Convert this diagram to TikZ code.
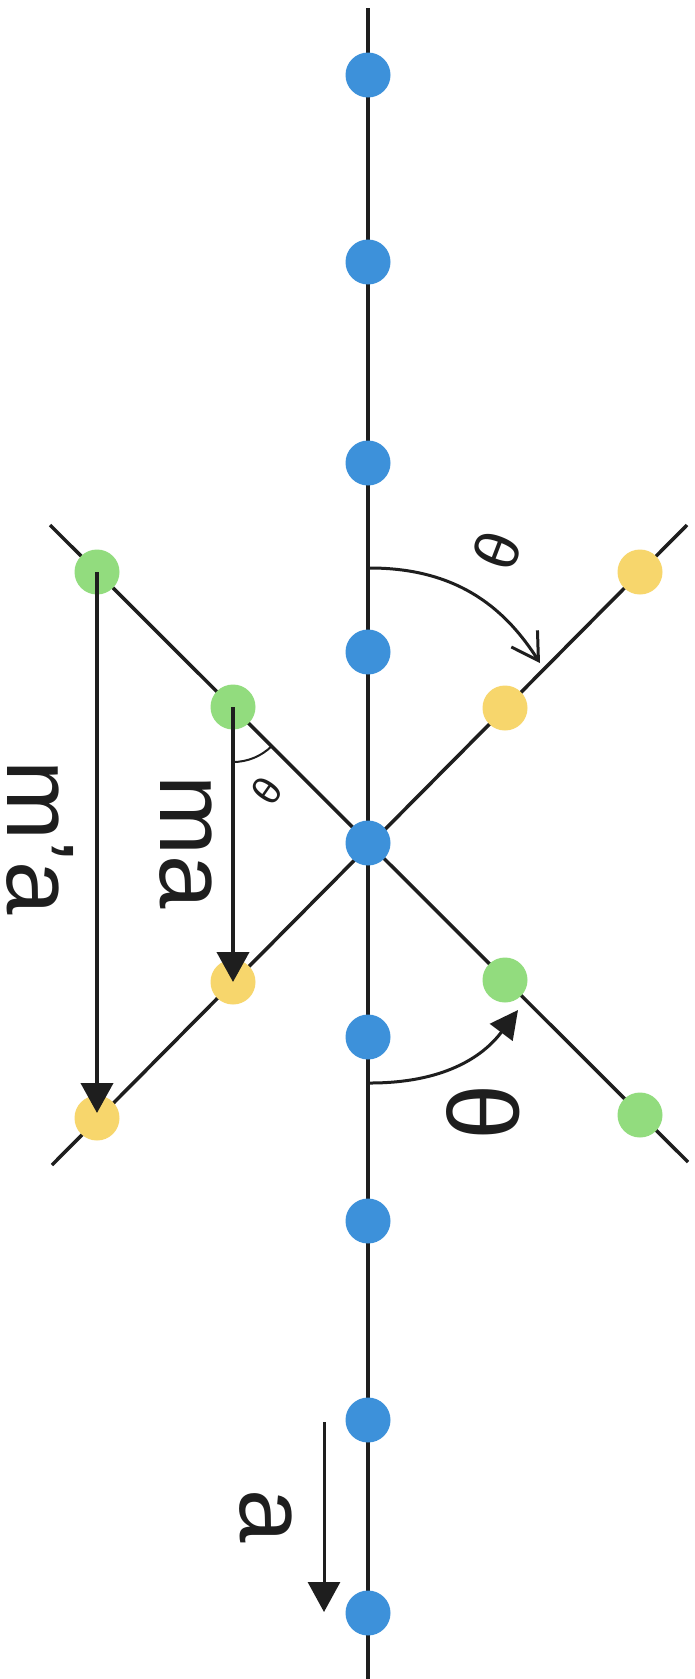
\documentclass[tikz,border=0pt]{standalone}
\usepackage{fontspec}
\setmainfont{Liberation Sans}
\usetikzlibrary{arrows.meta}
\definecolor{dotblue}{RGB}{61,145,218}
\definecolor{dotgreen}{RGB}{146,220,126}
\definecolor{dotyellow}{RGB}{247,214,108}
\definecolor{ink}{RGB}{30,30,30}
\begin{document}
\begin{tikzpicture}[x=1pt,y=-1pt,
  dotbase/.style={circle,inner sep=0pt,minimum size=45pt},
  bdot/.style={dotbase,fill=dotblue},
  gdot/.style={dotbase,fill=dotgreen},
  ydot/.style={dotbase,fill=dotyellow},
  axisline/.style={draw=ink,line width=4pt},
  diagline/.style={draw=ink,line width=3.5pt},
  vec/.style={draw=ink,line width=4pt,-{Triangle[length=30pt,width=32pt]}},
  thinarc/.style={draw=ink,line width=3pt},
  label/.style={inner sep=0pt,rotate=-90,anchor=base west,text=ink},
  thetalbl/.style={inner sep=0pt,text=ink}
]
\useasboundingbox (0,0) rectangle (695,1679);
\fill[white] (0,0) rectangle (695,1679);

% axis and diagonals
\coordinate (axtop) at (368,8);
\coordinate (axbot) at (368,1679);
\coordinate (d1s) at (50,525);
\coordinate (d1e) at (688,1162);
\coordinate (d2s) at (687,525);
\coordinate (d2e) at (52,1165);
\draw[axisline] (axtop) -- (axbot);
\draw[diagline] (d1s) -- (d1e);
\draw[diagline] (d2s) -- (d2e);

% blue dots
\node[bdot] (b1) at (368,75) {};
\node[bdot] (b2) at (368,262) {};
\node[bdot] (b3) at (368,463) {};
\node[bdot] (b4) at (368,652) {};
\node[bdot] (b5) at (368,843) {};
\node[bdot] (b6) at (368,1037) {};
\node[bdot] (b7) at (368,1221) {};
\node[bdot] (b8) at (368,1420) {};
\node[bdot] (b9) at (368,1613) {};

% green dots
\node[gdot] (g1) at (97,572) {};
\node[gdot] (g2) at (233,707) {};
\node[gdot] (g3) at (505,980) {};
\node[gdot] (g4) at (640,1115) {};

% yellow dots
\node[ydot] (y1) at (640,572) {};
\node[ydot] (y2) at (505,708) {};
\node[ydot] (y3) at (233,982) {};
\node[ydot] (y4) at (97,1118) {};

% projection arrows
\draw[vec,shorten >=5pt] (g1.center) -- (y4.center);
\draw[vec] (g2.center) -- (y3.center);

% small angle arc at g2
\draw[draw=ink,line width=2pt] (g2.center) ++(0,55) arc[start angle=90,end angle=45,radius=55];

% rotation arcs
\coordinate (ua1) at (370,568);
\coordinate (ua2) at (540,663);
\draw[thinarc,-{Straight Barb[length=26pt,width=31pt]}] (ua1) .. controls (462,568) and (508,613) .. (ua2);
\coordinate (la1) at (370,1083);
\coordinate (la2) at (518,1010);
\draw[thinarc,-{Triangle[length=28pt,width=28pt]}] (la1) .. controls (442,1083) and (482,1058) .. (la2);

% direction arrow a
\coordinate (at1) at (324,1422);
\coordinate (at2) at (324,1612);
\draw[vec,line width=3pt] (at1) -- (at2);

% labels
\node[label,font=\fontsize{96}{96}\selectfont] (tmpa) at (7,760) {m{\char"27}a};
\node[label,font=\fontsize{96}{96}\selectfont] (tma) at (160,775) {ma};
\node[label,font=\fontsize{96}{96}\selectfont] (ta) at (240,1489) {a};
\node[thetalbl,rotate=-90,font=\fontsize{100}{100}\selectfont] (thbig) at (483,1112) {θ};
\node[thetalbl,rotate=-111,font=\fontsize{62}{62}\selectfont] (thup) at (497,551) {θ};
\node[thetalbl,rotate=-125,font=\fontsize{40}{40}\selectfont] (thsm) at (267,791) {θ};
\end{tikzpicture}
\end{document}
